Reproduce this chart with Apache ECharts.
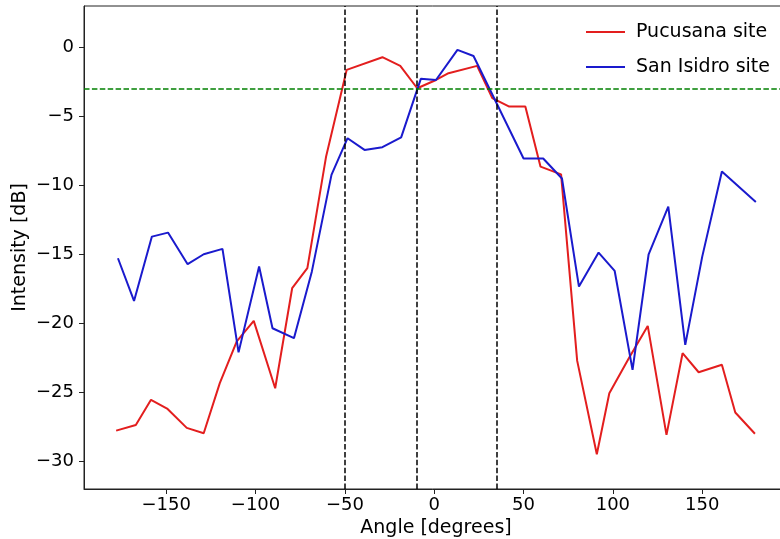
<!DOCTYPE html>
<html>
<head>
<meta charset="utf-8">
<script src="https://cdn.jsdelivr.net/npm/echarts@6/dist/echarts.min.js"></script>
<style>html,body{margin:0;padding:0;background:#fff}#c{width:780px;height:539px}</style>
</head>
<body>
<div id="c"></div>
<script>
const pucusanaAngles = [-178, -167, -158.5, -149.5, -138.5, -129, -120, -110.5, -101, -89, -79.5, -71, -60.5, -49, -29, -19, -9.5, 1, 8, 24, 32.5, 42, 51, 59.5, 71, 80, 91, 98, 109, 119.5, 130, 139, 148, 161, 168.5, 179.5];
const pucusanaValues = [-27.77, -27.36, -25.54, -26.17, -27.57, -27.96, -24.33, -21.3, -19.82, -24.7, -17.45, -16.0, -7.9, -1.63, -0.71, -1.34, -2.96, -2.36, -1.87, -1.34, -3.68, -4.29, -4.29, -8.64, -9.2, -22.7, -29.48, -25.06, -22.5, -20.18, -28.08, -22.16, -23.54, -23.0, -26.46, -28.0];
const sanIsidroAngles = [-177, -168, -158, -149, -138, -129, -118.5, -109.5, -98, -90.5, -78.5, -68.5, -57.5, -48.5, -39, -29, -18.5, -7.5, 1, 13, 22, 50, 61, 71.5, 81, 92, 101, 111, 120, 131, 140.5, 150, 161, 180];
const sanIsidroValues = [-15.28, -18.37, -13.71, -13.42, -15.71, -14.99, -14.6, -22.1, -15.88, -20.35, -21.07, -16.25, -9.24, -6.58, -7.43, -7.23, -6.52, -2.28, -2.36, -0.18, -0.62, -8.05, -8.05, -9.5, -17.33, -14.87, -16.2, -23.37, -14.99, -11.53, -21.56, -15.16, -9.0, -11.2];
const xTicks = [-150, -100, -50, 0, 50, 100, 150];
const yTicks = [-30, -25, -20, -15, -10, -5, 0];
const verticalLines = [-50, -10, 35];
const horizontalLine = -3;
const seriesNames = ['Pucusana site', 'San Isidro site'];

const FONT = 'DejaVu Sans';
const fmt = v => (v < 0 ? '\u2212' + Math.abs(v) : String(v));
const zip = (a, b) => a.map((x, i) => [x, b[i]]);
const RED = '#e31e1e', BLUE = '#1a1acd';

const chart = echarts.init(document.getElementById('c'), null, {renderer: 'canvas'});
chart.setOption({
  animation: false,
  backgroundColor: '#fff',
  grid: {left: 84, top: 6, right: -8, bottom: 50, containLabel: false, outerBoundsMode: 'none',
         show: true, borderColor: '#222', borderWidth: 1, backgroundColor: 'transparent'},
  legend: {
    orient: 'vertical', left: 581, top: 17, itemWidth: 39, itemHeight: 2, itemGap: 15, icon: 'rect',
    textStyle: {fontFamily: FONT, fontSize: 19, color: '#000', padding: [0, 0, 0, 6], lineHeight: 20},
    data: seriesNames
  },
  xAxis: {
    type: 'value', min: -196, max: 198,
    name: 'Angle [degrees]', nameLocation: 'middle', nameGap: 30, nameMoveOverlap: false,
    nameTextStyle: {fontFamily: FONT, fontSize: 19, color: '#000'},
    axisLine: {show: true, onZero: false, lineStyle: {color: '#222', width: 1}},
    axisTick: {show: true, inside: false, length: 5, lineStyle: {color: '#222'}, customValues: xTicks},
    axisLabel: {fontFamily: FONT, fontSize: 18, color: '#000', margin: 7, customValues: xTicks, formatter: fmt},
    splitLine: {show: false}
  },
  yAxis: {
    type: 'value', min: -32, max: 3,
    name: 'Intensity [dB]', nameLocation: 'middle', nameGap: 54, nameRotate: 90, nameMoveOverlap: false,
    nameTextStyle: {fontFamily: FONT, fontSize: 19, color: '#000'},
    axisLine: {show: true, onZero: false, lineStyle: {color: '#222', width: 1}},
    axisTick: {show: true, inside: false, length: 5, lineStyle: {color: '#222'}, customValues: yTicks},
    axisLabel: {fontFamily: FONT, fontSize: 18, color: '#000', margin: 10, customValues: yTicks, formatter: fmt},
    splitLine: {show: false}
  },
  series: [
    {
      name: seriesNames[0], type: 'line', symbol: 'none', data: zip(pucusanaAngles, pucusanaValues),
      lineStyle: {color: RED, width: 2}, itemStyle: {color: RED}, z: 3,
      markLine: {
        silent: true, symbol: ['none', 'none'], label: {show: false}, animation: false,
        data: verticalLines.map(v => ({xAxis: v, lineStyle: {color: '#000', width: 1.5, type: [5.5, 2.4]}}))
          .concat([{yAxis: horizontalLine, lineStyle: {color: '#008000', width: 1.5, type: [5.5, 2.4]}}])
      }
    },
    {
      name: seriesNames[1], type: 'line', symbol: 'none', data: zip(sanIsidroAngles, sanIsidroValues),
      lineStyle: {color: BLUE, width: 2}, itemStyle: {color: BLUE}, z: 3
    }
  ]
});
</script>
</body>
</html>
